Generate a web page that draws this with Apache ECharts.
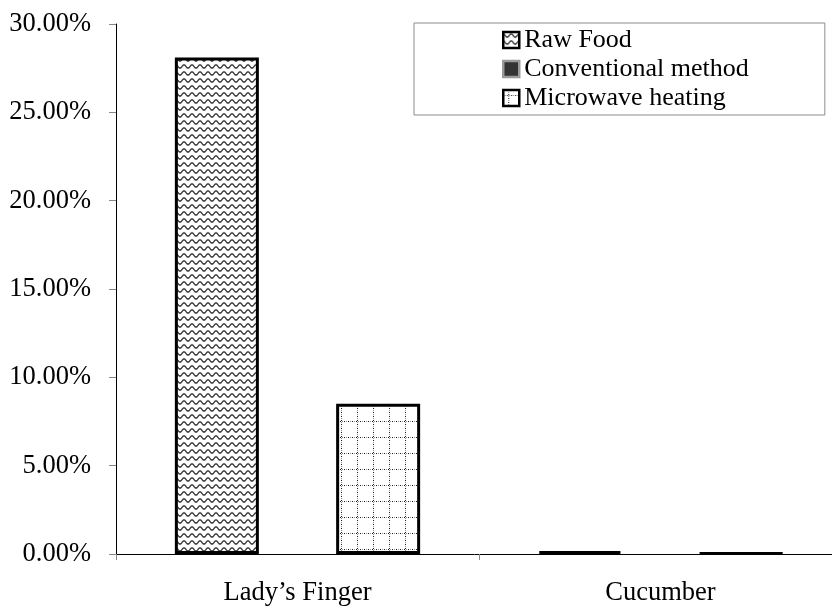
<!DOCTYPE html>
<html>
<head>
<meta charset="utf-8">
<script src="https://cdn.jsdelivr.net/npm/echarts@6/dist/echarts.min.js"></script>
<style>
  html, body { margin: 0; padding: 0; background: #fff; }
  #chart { width: 832px; height: 607px; }
</style>
</head>
<body>
<div id="chart"></div>
<script>
// Chart values (percent)
const categories = ["Lady\u2019s Finger", "Cucumber"];
const seriesNames = ["Raw Food", "Conventional method", "Microwave heating"];
const rawFood = [28.1, 0.16];
const conventional = [0, 0];
const microwave = [8.5, 0.05];
const yTicks = { min: 0, max: 30, step: 5 };

const FONT = "'Liberation Serif', 'Times New Roman', serif";

// Wavy hatch fill
function wavePattern() {
  const c = document.createElement('canvas');
  c.width = 8; c.height = 7;
  const g = c.getContext('2d');
  g.fillStyle = '#fff';
  g.fillRect(0, 0, 8, 7);
  g.strokeStyle = '#3a3a3a';
  g.lineWidth = 1.4;
  g.beginPath();
  for (let x = -1; x <= 9; x += 0.5) {
    const y = 3.5 - 1.6 * Math.cos(2 * Math.PI * x / 8);
    if (x === -1) g.moveTo(x, y); else g.lineTo(x, y);
  }
  g.stroke();
  return c;
}

// Dotted grid fill
function gridPattern() {
  const s = 16;
  const c = document.createElement('canvas');
  c.width = s; c.height = s;
  const g = c.getContext('2d');
  g.fillStyle = '#fff';
  g.fillRect(0, 0, s, s);
  for (let i = 0; i < s; i += 2) {
    g.fillStyle = (i % 4 === 0) ? '#1a1a1a' : '#8a8a8a';
    g.fillRect(i, 5, 1, 1);
    g.fillRect(5, i, 1, 1);
  }
  return c;
}

const chart = echarts.init(document.getElementById('chart'), null, { renderer: 'canvas' });

const barBase = {
  type: 'bar',
  barWidth: 84,
  barGap: '-4%',
  barCategoryGap: 0,
  clip: false
};

chart.setOption({
  animation: false,
  backgroundColor: '#fff',
  textStyle: { fontFamily: FONT, color: '#000' },
  grid: { left: 116, top: 24, width: 726, height: 530, containLabel: false, outerBoundsMode: 'none' },
  legend: {
    orient: 'vertical',
    left: 414,
    top: 23,
    padding: [4, 76, 4, 88],
    borderColor: '#8c8c8c',
    borderWidth: 1,
    itemWidth: 16,
    itemHeight: 16,
    itemGap: 3,
    icon: 'rect',
    itemStyle: { borderWidth: 2.5 },
    data: seriesNames,
    textStyle: { fontFamily: FONT, fontSize: 26, color: '#000' }
  },
  xAxis: {
    type: 'category',
    data: categories,
    axisLine: { lineStyle: { color: '#000', width: 1 } },
    axisTick: { show: true, length: 6, lineStyle: { color: '#888' } },
    axisLabel: { fontFamily: FONT, fontSize: 26.5, color: '#000', margin: 26 },
    splitLine: { show: false }
  },
  yAxis: {
    type: 'value',
    min: yTicks.min,
    max: yTicks.max,
    interval: yTicks.step,
    axisLine: { show: true, lineStyle: { color: '#000', width: 1 } },
    axisTick: { show: true, length: 7, lineStyle: { color: '#888' } },
    axisLabel: {
      fontFamily: FONT, fontSize: 26.5, color: '#000', margin: 25,
      formatter: v => v.toFixed(2) + '%'
    },
    splitLine: { show: false }
  },
  series: [
    Object.assign({}, barBase, {
      name: seriesNames[0],
      data: rawFood,
      itemStyle: { color: { image: wavePattern(), repeat: 'repeat' }, borderColor: '#000', borderWidth: 3 }
    }),
    Object.assign({}, barBase, {
      name: seriesNames[1],
      data: conventional.map(v => ({ value: v, itemStyle: { borderWidth: v === 0 ? 0 : 3 } })),
      itemStyle: { color: '#333', borderColor: '#999', borderWidth: 3 }
    }),
    Object.assign({}, barBase, {
      name: seriesNames[2],
      data: microwave,
      itemStyle: { color: { image: gridPattern(), repeat: 'repeat' }, borderColor: '#000', borderWidth: 3 }
    })
  ]
});
</script>
</body>
</html>
